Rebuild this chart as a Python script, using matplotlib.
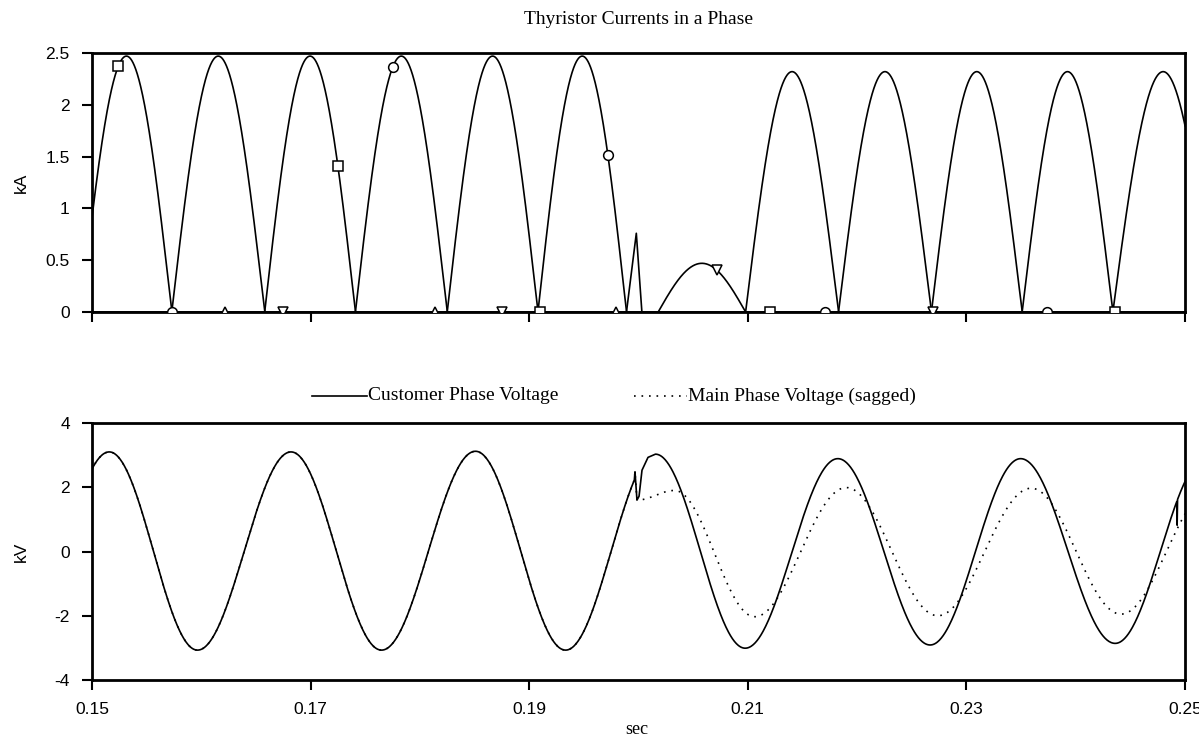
import numpy as np
import matplotlib
matplotlib.use("Agg")
import matplotlib.pyplot as plt
from matplotlib.lines import Line2D
from matplotlib.ticker import FuncFormatter

# ---- top panel: thyristor conduction arcs (sec, kA) ----
ARC_START = [0.1490, 0.1573, 0.1658, 0.1741, 0.1825, 0.1908,
             0.2018, 0.2098, 0.2183, 0.2268, 0.2351, 0.2434]
ARC_END = [0.1573, 0.1658, 0.1741, 0.1825, 0.1908, 0.1989,
           0.2098, 0.2183, 0.2268, 0.2351, 0.2434, 0.2526]
ARC_PEAK = [2.47, 2.47, 2.47, 2.47, 2.47, 2.47,
            0.47, 2.32, 2.32, 2.32, 2.32, 2.32]
ARC_VALVE = ["T1", "T2", "T1", "T2", "T1", "T2",
             "T4", "T3", "T4", "T3", "T4", "T3"]

# short commutation spike on T1 right before the transfer
SPIKE_T = [0.1989, 0.1998, 0.2003]
SPIKE_I = [0.0, 0.76, 0.0]

VALVES = ["T1", "T2", "T3", "T4"]
MARK_T = {
    "T1": [0.1524, 0.1725, 0.1910, 0.2120, 0.2436],
    "T2": [0.1573, 0.1775, 0.1972, 0.2171, 0.2374],
    "T3": [0.1622, 0.1814, 0.1979],
    "T4": [0.1675, 0.1875, 0.2072, 0.2269],
}
VALVE_MARKER = {"T1": "s", "T2": "o", "T3": "^", "T4": "v"}

# ---- bottom panel: voltage extrema (sec, kV) ----
CUST_PRE_T = [0.14325, 0.15158, 0.15965, 0.16821, 0.17649, 0.18509, 0.19333, 0.20167]
CUST_PRE_V = [-3.07, 3.10, -3.07, 3.10, -3.07, 3.12, -3.07, 3.10]
# transfer transient on the customer side
JUMP_T = [0.19968, 0.19986, 0.20005, 0.20032, 0.20087]
JUMP_V = [2.48, 1.60, 1.72, 2.53, 2.93]
CUST_POST_T = [0.20155, 0.20976, 0.21824, 0.22668, 0.23496, 0.24361, 0.25190]
CUST_POST_V = [3.03, -3.01, 2.89, -2.91, 2.89, -2.86, 2.89]
NOTCH_T = [0.24928]
NOTCH_V = [0.82]
# sagged main voltage after the transient
MAIN_POST_T = [0.19986, 0.20330, 0.21063, 0.21901, 0.22738, 0.23593, 0.24414, 0.25250]
MAIN_POST_V = [1.60, 1.90, -2.03, 1.99, -2.00, 1.97, -1.95, 1.97]

LEGEND_LABELS = ["Customer Phase Voltage", "Main Phase Voltage (sagged)"]

SERIF = "Liberation Serif"
DOTS = (0, (1, 3.5))


def half_cos(t_ext, v_ext, t):
    """Sinusoidal swing between consecutive extrema."""
    t_ext = np.asarray(t_ext); v_ext = np.asarray(v_ext)
    k = np.clip(np.searchsorted(t_ext, t) - 1, 0, len(t_ext) - 2)
    t0, t1 = t_ext[k], t_ext[k + 1]
    v0, v1 = v_ext[k], v_ext[k + 1]
    ph = np.clip((t - t0) / (t1 - t0), 0, 1)
    return 0.5 * (v0 + v1) + 0.5 * (v0 - v1) * np.cos(np.pi * ph)


def valve_current(name, t):
    i = np.zeros_like(t)
    for s, e, p, v in zip(ARC_START, ARC_END, ARC_PEAK, ARC_VALVE):
        if v != name:
            continue
        m = (t >= s) & (t <= e)
        i[m] = p * np.sin(np.pi * (t[m] - s) / (e - s))
    if name == "T1":
        i = np.maximum(i, np.interp(t, SPIKE_T, SPIKE_I, left=0, right=0))
    return i


def customer_voltage():
    ta = np.linspace(0.1495, JUMP_T[0], 800, endpoint=False)
    tb = np.linspace(CUST_POST_T[0], NOTCH_T[0] - 3e-5, 800)
    tc = np.linspace(NOTCH_T[0] + 4e-5, 0.2505, 50)
    t = np.concatenate([ta, JUMP_T, tb, NOTCH_T, tc])
    v = np.concatenate([half_cos(CUST_PRE_T, CUST_PRE_V, ta), JUMP_V,
                        half_cos(CUST_POST_T, CUST_POST_V, tb), NOTCH_V,
                        half_cos(CUST_POST_T, CUST_POST_V, tc)])
    return t, v


def main_voltage():
    ta = np.linspace(0.1495, JUMP_T[0], 800, endpoint=False)
    tb = np.linspace(MAIN_POST_T[0], 0.2505, 800)
    t = np.concatenate([ta, [JUMP_T[0]], tb])
    v = np.concatenate([half_cos(CUST_PRE_T, CUST_PRE_V, ta), [JUMP_V[0]],
                        half_cos(MAIN_POST_T, MAIN_POST_V, tb)])
    return t, v


def style_axes(ax):
    for sp in ax.spines.values():
        sp.set_linewidth(2.0)
    ax.tick_params(direction="out", length=7, width=1.5, labelsize=12.5,
                   top=False, right=False)
    ax.tick_params(axis="y", pad=9)
    ax.tick_params(axis="x", pad=9)
    ax.set_xlim(0.15, 0.25)
    ax.set_xticks([0.15, 0.17, 0.19, 0.21, 0.23, 0.25])


def main():
    plt.rcParams["font.family"] = ["Liberation Sans", "DejaVu Sans"]
    plt.rcParams["axes.unicode_minus"] = False

    fig = plt.figure(figsize=(11.99, 7.40), dpi=100)
    W, H = 1199.0, 740.0
    ax1 = fig.add_axes([92 / W, 1 - 312 / H, 1093 / W, 259 / H])
    ax2 = fig.add_axes([92 / W, 1 - 680 / H, 1093 / W, 257 / H])

    # top: thyristor currents
    t = np.linspace(0.149, 0.253, 20801)
    for name in VALVES:
        i = valve_current(name, t)
        ax1.plot(t, i, color="black", lw=1.2, zorder=3)
        mt = np.array(MARK_T[name])
        ax1.plot(mt, np.interp(mt, t, i), ls="none", marker=VALVE_MARKER[name],
                 ms=7, mfc="white", mec="black", mew=1.1, zorder=4)
    style_axes(ax1)
    ax1.set_ylim(0, 2.5)
    ax1.set_yticks([0, 0.5, 1, 1.5, 2, 2.5])
    ax1.yaxis.set_major_formatter(FuncFormatter(lambda v, p: f"{v:g}"))
    ax1.set_xticklabels([])
    ax1.set_ylabel("kA", fontsize=12.5)
    ax1.yaxis.set_label_coords(-0.058, 0.5)

    # bottom: phase voltages
    tm, vm = main_voltage()
    tcu, vcu = customer_voltage()
    ax2.plot(tm, vm, color="black", lw=1.2, ls=DOTS, zorder=2)
    ax2.plot(tcu, vcu, color="black", lw=1.2, zorder=3)
    style_axes(ax2)
    ax2.set_ylim(-4, 4)
    ax2.set_yticks([-4, -2, 0, 2, 4])
    ax2.xaxis.set_major_formatter(FuncFormatter(lambda v, p: f"{v:.2f}"))
    ax2.set_ylabel("kV", fontsize=12.5)
    ax2.yaxis.set_label_coords(-0.058, 0.5)

    fig.text(638 / W, 1 - 19 / H, "Thyristor Currents in a Phase",
             family=SERIF, fontsize=14, ha="center", va="center")
    fig.text(637 / W, 1 - 729 / H, "sec", family=SERIF, fontsize=13,
             ha="center", va="center")

    # legend row between the panels: short line sample followed by its text
    ly = 1 - 396 / H
    fig.add_artist(Line2D([312 / W, 367 / W], [ly, ly], color="black", lw=1.2))
    fig.text(368 / W, ly, LEGEND_LABELS[0], family=SERIF, fontsize=14,
             ha="left", va="center")
    fig.add_artist(Line2D([634 / W, 687 / W], [ly, ly], color="black", lw=1.2,
                          ls=DOTS))
    fig.text(688 / W, ly, LEGEND_LABELS[1], family=SERIF, fontsize=14,
             ha="left", va="center")

    fig.savefig("out.png", dpi=100)


if __name__ == "__main__":
    main()
